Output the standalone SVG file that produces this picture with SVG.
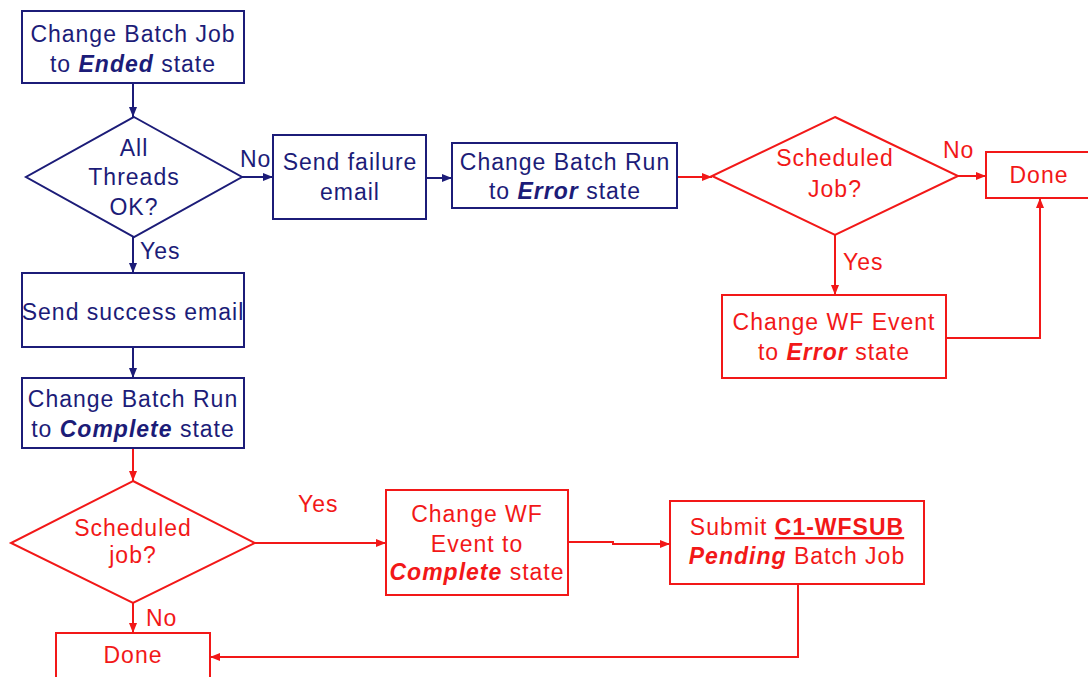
<svg xmlns="http://www.w3.org/2000/svg" width="1088" height="677" viewBox="0 0 1088 677">
<defs>
<style>
.b{fill:#fff;stroke:#1c1c78;stroke-width:2}
.r{fill:#fff;stroke:#f21818;stroke-width:2}
text{font-family:"Liberation Sans",Arial,sans-serif;font-size:23px;letter-spacing:1px}
.tb{fill:#1c1c78}
.tr{fill:#f21818}
.c{text-anchor:middle}
.bi{font-weight:bold;font-style:italic}
.lb{fill:none;stroke:#1c1c78;stroke-width:2}
.lr{fill:none;stroke:#f21818;stroke-width:2}
</style>
<marker id="ab" viewBox="0 0 10 10" refX="10" refY="5" markerWidth="10" markerHeight="10" markerUnits="userSpaceOnUse" orient="auto"><path d="M0,1 L10,5 L0,9 z" fill="#1c1c78"/></marker>
<marker id="ar" viewBox="0 0 10 10" refX="10" refY="5" markerWidth="10" markerHeight="10" markerUnits="userSpaceOnUse" orient="auto"><path d="M0,1 L10,5 L0,9 z" fill="#f21818"/></marker>
</defs>
<rect width="1088" height="677" fill="#fff"/>
<g id="connectors">
<path class="lb" d="M133,83 V117" marker-end="url(#ab)"/>
<path class="lb" d="M242,177 H273" marker-end="url(#ab)"/>
<path class="lb" d="M426,178 H452" marker-end="url(#ab)"/>
<path class="lb" d="M133,237 V273" marker-end="url(#ab)"/>
<path class="lb" d="M133,347 V378" marker-end="url(#ab)"/>
<path class="lr" d="M677,177 H712" marker-end="url(#ar)"/>
<path class="lr" d="M958,176 H986" marker-end="url(#ar)"/>
<path class="lr" d="M835,235 V295" marker-end="url(#ar)"/>
<path class="lr" d="M946,338 H1040 V198" marker-end="url(#ar)"/>
<path class="lr" d="M133,448 V481" marker-end="url(#ar)"/>
<path class="lr" d="M255,543 H386" marker-end="url(#ar)"/>
<path class="lr" d="M133,603 V633" marker-end="url(#ar)"/>
<path class="lr" d="M568,542 H613 V544 H670" marker-end="url(#ar)"/>
<path class="lr" d="M798,584 V657 H210" marker-end="url(#ar)"/>
<text class="tb" x="240" y="167">No</text>
<text class="tb" x="140" y="259">Yes</text>
<text class="tr" x="943" y="158">No</text>
<text class="tr" x="843" y="270">Yes</text>
<text class="tr" x="298" y="512">Yes</text>
<text class="tr" x="146" y="626">No</text>
</g>
<g id="n1"><rect class="b" x="22" y="11" width="222" height="72"/>
<text class="tb c" x="133" y="42">Change Batch Job</text>
<text class="tb c" x="133" y="72">to <tspan class="bi">Ended</tspan> state</text></g>
<g id="n2"><polygon class="b" points="134,117 242,177 134,237 26,177"/>
<text class="tb c" x="134" y="156">All</text>
<text class="tb c" x="134" y="185">Threads</text>
<text class="tb c" x="134" y="215">OK?</text></g>
<g id="n3"><rect class="b" x="273" y="135" width="153" height="84"/>
<text class="tb c" x="350" y="170">Send failure</text>
<text class="tb c" x="350" y="200">email</text></g>
<g id="n4"><rect class="b" x="452" y="143" width="225" height="65"/>
<text class="tb c" x="565" y="170">Change Batch Run</text>
<text class="tb c" x="565" y="199">to <tspan class="bi">Error</tspan> state</text></g>
<g id="n5"><polygon class="r" points="835,117 958,176 835,235 712,176"/>
<text class="tr c" x="835" y="166">Scheduled</text>
<text class="tr c" x="835" y="197">Job?</text></g>
<g id="n6"><rect class="r" x="986" y="152" width="106" height="46"/>
<text class="tr c" x="1039" y="183">Done</text></g>
<g id="n7"><rect class="r" x="722" y="295" width="224" height="83"/>
<text class="tr c" x="834" y="330">Change WF Event</text>
<text class="tr c" x="834" y="360">to <tspan class="bi">Error</tspan> state</text></g>
<g id="n8"><rect class="b" x="22" y="273" width="222" height="74"/>
<text class="tb c" x="133" y="320">Send success email</text></g>
<g id="n9"><rect class="b" x="22" y="378" width="222" height="70"/>
<text class="tb c" x="133" y="407">Change Batch Run</text>
<text class="tb c" x="133" y="437">to <tspan class="bi">Complete</tspan> state</text></g>
<g id="n10"><polygon class="r" points="133,481 255,543 133,603 11,543"/>
<text class="tr c" x="133" y="536">Scheduled</text>
<text class="tr c" x="133" y="563">job?</text></g>
<g id="n11"><rect class="r" x="386" y="490" width="182" height="105"/>
<text class="tr c" x="477" y="522">Change WF</text>
<text class="tr c" x="477" y="552">Event to</text>
<text class="tr c" x="477" y="580"><tspan class="bi">Complete</tspan> state</text></g>
<g id="n12"><rect class="r" x="670" y="501" width="254" height="83"/>
<text class="tr c" x="797" y="535">Submit <tspan font-weight="bold" text-decoration="underline">C1-WFSUB</tspan></text>
<text class="tr c" x="797" y="564"><tspan class="bi">Pending</tspan> Batch Job</text></g>
<g id="n13"><rect class="r" x="56" y="633" width="154" height="60"/>
<text class="tr c" x="133" y="663">Done</text></g>
</svg>
